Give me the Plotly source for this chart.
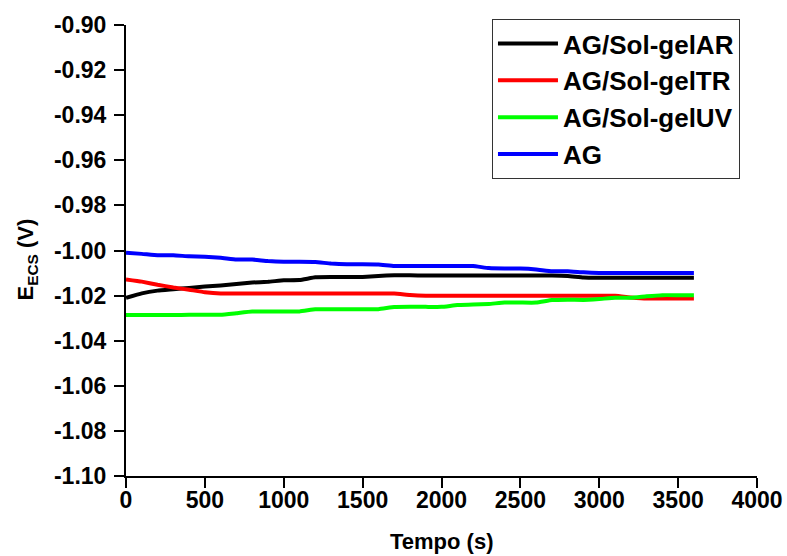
import plotly.graph_objects as go

# Time (s)
tempo = [0, 100, 200, 300, 400, 500, 600, 700, 800, 900, 1000, 1100, 1200, 1300,
         1400, 1500, 1600, 1700, 1800, 1900, 2000, 2100, 2200, 2300, 2400, 2500,
         2600, 2700, 2800, 2900, 3000, 3100, 3200, 3300, 3400, 3500, 3600]

# E_ECS (V)
ag_solgel_ar = [-1.0210, -1.0190, -1.0178, -1.0172, -1.0166, -1.0160, -1.0155, -1.0149,
                -1.0142, -1.0139, -1.0132, -1.0131, -1.0119, -1.0118, -1.0118, -1.0117,
                -1.0113, -1.0110, -1.0110, -1.0111, -1.0111, -1.0111, -1.0111, -1.0111,
                -1.0111, -1.0111, -1.0111, -1.0111, -1.0113, -1.0120, -1.0121, -1.0121,
                -1.0121, -1.0121, -1.0121, -1.0121, -1.0121]
ag_solgel_tr = [-1.0128, -1.0138, -1.0152, -1.0164, -1.0174, -1.0185, -1.0191, -1.0191,
                -1.0191, -1.0191, -1.0191, -1.0191, -1.0191, -1.0191, -1.0191, -1.0191,
                -1.0191, -1.0191, -1.0197, -1.0201, -1.0201, -1.0201, -1.0201, -1.0201,
                -1.0201, -1.0201, -1.0201, -1.0201, -1.0201, -1.0201, -1.0201, -1.0201,
                -1.0208, -1.0213, -1.0213, -1.0213, -1.0213]
ag_solgel_uv = [-1.0286, -1.0286, -1.0286, -1.0286, -1.0285, -1.0285, -1.0285, -1.0278,
                -1.0271, -1.0271, -1.0270, -1.0270, -1.0261, -1.0260, -1.0260, -1.0260,
                -1.0260, -1.0251, -1.0250, -1.0250, -1.0250, -1.0242, -1.0240, -1.0237,
                -1.0231, -1.0231, -1.0231, -1.0220, -1.0218, -1.0219, -1.0215, -1.0210,
                -1.0210, -1.0203, -1.0198, -1.0198, -1.0198]
ag = [-1.0010, -1.0015, -1.0021, -1.0021, -1.0026, -1.0028, -1.0032, -1.0040,
      -1.0040, -1.0047, -1.0050, -1.0050, -1.0051, -1.0058, -1.0061, -1.0061,
      -1.0062, -1.0069, -1.0069, -1.0069, -1.0069, -1.0069, -1.0069, -1.0078,
      -1.0080, -1.0080, -1.0084, -1.0092, -1.0092, -1.0097, -1.0100, -1.0100,
      -1.0100, -1.0100, -1.0100, -1.0100, -1.0100]

series = [
    ("AG/Sol-gelAR", ag_solgel_ar, "#000000"),
    ("AG/Sol-gelTR", ag_solgel_tr, "#ff0000"),
    ("AG/Sol-gelUV", ag_solgel_uv, "#00ff00"),
    ("AG", ag, "#0000ff"),
]

x_ticks = [0, 500, 1000, 1500, 2000, 2500, 3000, 3500, 4000]
y_ticks = [-1.10, -1.08, -1.06, -1.04, -1.02, -1.00, -0.98, -0.96, -0.94, -0.92, -0.90]

x_title = "Tempo (s)"
y_title = "E<sub>ECS</sub> (V)"

fig = go.Figure()
for name, vals, color in series:
    fig.add_trace(go.Scatter(x=tempo, y=vals, mode="lines", name=name,
                             line=dict(color=color, width=4, shape="spline", smoothing=0.3)))

font_family = "Liberation Sans, Arial, sans-serif"

fig.update_layout(
    width=787, height=556,
    margin=dict(l=126, r=30, t=25, b=80, autoexpand=False),
    paper_bgcolor="white", plot_bgcolor="white",
    font=dict(family=font_family, color="black"),
    showlegend=True,
    legend=dict(
        x=0.58, y=1.013, xanchor="left", yanchor="top",
        bordercolor="#333333", borderwidth=1, bgcolor="white",
        font=dict(family=font_family, size=26, color="black", weight="bold"),
        itemwidth=60, tracegroupgap=0,
    ),
    xaxis=dict(
        range=[0, 4000], tickvals=x_ticks, ticktext=[str(v) for v in x_ticks],
        showgrid=False, zeroline=False, showline=True, linecolor="black", linewidth=2,
        ticks="outside", ticklen=10, tickwidth=2, tickcolor="black",
        tickfont=dict(size=23, weight="bold", family=font_family),
        ticklabelstandoff=-8,
        automargin=False,
    ),
    yaxis=dict(
        range=[-1.10, -0.90], tickvals=y_ticks, ticktext=[f"{v:.2f}" for v in y_ticks],
        showgrid=False, zeroline=False, showline=True, linecolor="black", linewidth=2,
        ticks="outside", ticklen=10, tickwidth=2, tickcolor="black",
        tickfont=dict(size=23, weight="bold", family=font_family),
        ticklabelstandoff=3,
        automargin=False,
    ),
    annotations=[
        dict(text=f"<b>{x_title}</b>", xref="paper", yref="paper", x=0.5, y=-0.145,
             xanchor="center", yanchor="middle", showarrow=False,
             font=dict(size=22, family=font_family, color="black")),
        dict(text=f"<b>{y_title}</b>", xref="paper", yref="paper", x=-0.157, y=0.48,
             xanchor="center", yanchor="middle", showarrow=False, textangle=-90,
             font=dict(size=22, family=font_family, color="black")),
    ],
)

fig.write_html("out.html")
